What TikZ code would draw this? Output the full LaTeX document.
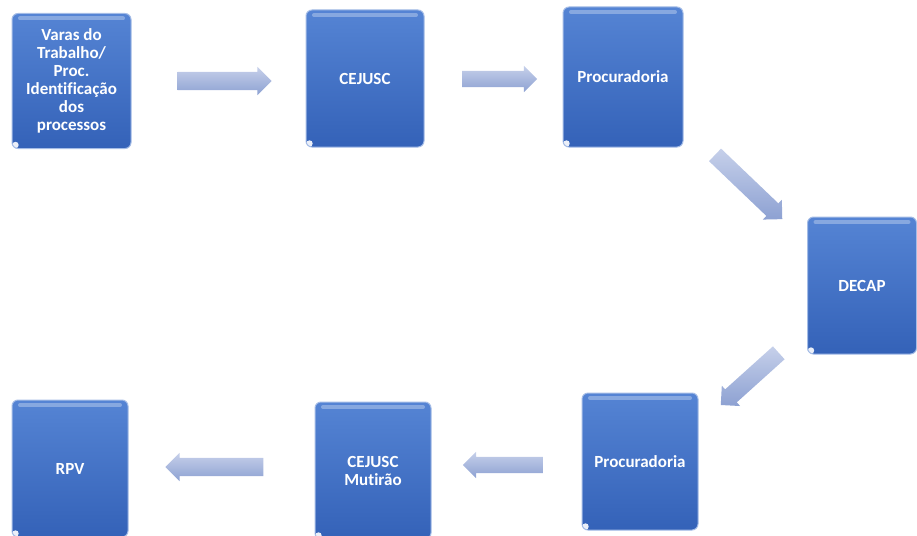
\documentclass[tikz,border=0pt]{standalone}
\usepackage{fontspec}
\setmainfont{Carlito}[Ligatures=CommonOff]
\usetikzlibrary{shapes.arrows}
\definecolor{boxtop}{HTML}{5584D4}
\definecolor{boxbot}{HTML}{3462B8}
\definecolor{boxedge}{HTML}{A4BCE6}
\definecolor{arrtop}{HTML}{C6D0EA}
\definecolor{arrbot}{HTML}{8DA1D2}
\tikzset{
  stage/.style={rounded corners=6pt, top color=boxtop, bottom color=boxbot,
    draw=boxedge, line width=1pt, text=white,
    font=\bfseries\fontsize{17}{18}\selectfont, align=center, inner sep=0pt,
    path picture={
      \draw[line width=4pt, white, opacity=0.3, line cap=round]
        ([xshift=8pt,yshift=-5pt]path picture bounding box.north west) --
        ([xshift=-8pt,yshift=-5pt]path picture bounding box.north east);
      \fill[white, opacity=0.9] ([xshift=3.5pt,yshift=3.5pt]path picture bounding box.south west) circle (3.2pt);
    }},
  flow/.style={single arrow, single arrow head extend=5pt, inner sep=0pt,
    top color=arrtop, bottom color=arrbot, draw=none, single arrow tip angle=90}
}
\begin{document}
\begin{tikzpicture}[x=1pt,y=-1pt]
\useasboundingbox (0,0) rectangle (917,535);
% stages
\node[stage, minimum width=119pt, minimum height=135pt] (b1) at (71.5,81)
  {Varas do\\Trabalho/\\Proc.\\Identificação\\dos\\processos};
\node[stage, minimum width=118pt, minimum height=137pt] (b2) at (365,78.5) {CEJUSC};
\node[stage, minimum width=120pt, minimum height=140pt] (b3) at (623,77) {Procuradoria};
\node[stage, minimum width=109pt, minimum height=137pt] (b4) at (862,285.5) {DECAP};
\node[stage, minimum width=116pt, minimum height=137pt] (b5) at (640,461.5) {Procuradoria};
\node[stage, minimum width=116pt, minimum height=137pt] (b6) at (373,470.5) {CEJUSC\\Mutirão};
\node[stage, minimum width=116pt, minimum height=137pt] (b7) at (70,468.5) {RPV};
% block arrows
\node[flow, minimum height=94pt] (a1) at (220,81) {\rule{0pt}{18pt}};
\node[flow, minimum height=75pt] (a2) at (495.5,79) {\rule{0pt}{16pt}};
\node[flow, minimum height=93pt, rotate=-43.7] (a3) at (745.5,184) {\rule{0pt}{17pt}};
\node[flow, minimum height=78pt, rotate=-138] (a4) at (753,376) {\rule{0pt}{17pt}};
\node[flow, minimum height=80pt, rotate=180] (a5) at (507,465) {\rule{0pt}{16pt}};
\node[flow, minimum height=98pt, rotate=180] (a6) at (219,467) {\rule{0pt}{18pt}};
\end{tikzpicture}
\end{document}
